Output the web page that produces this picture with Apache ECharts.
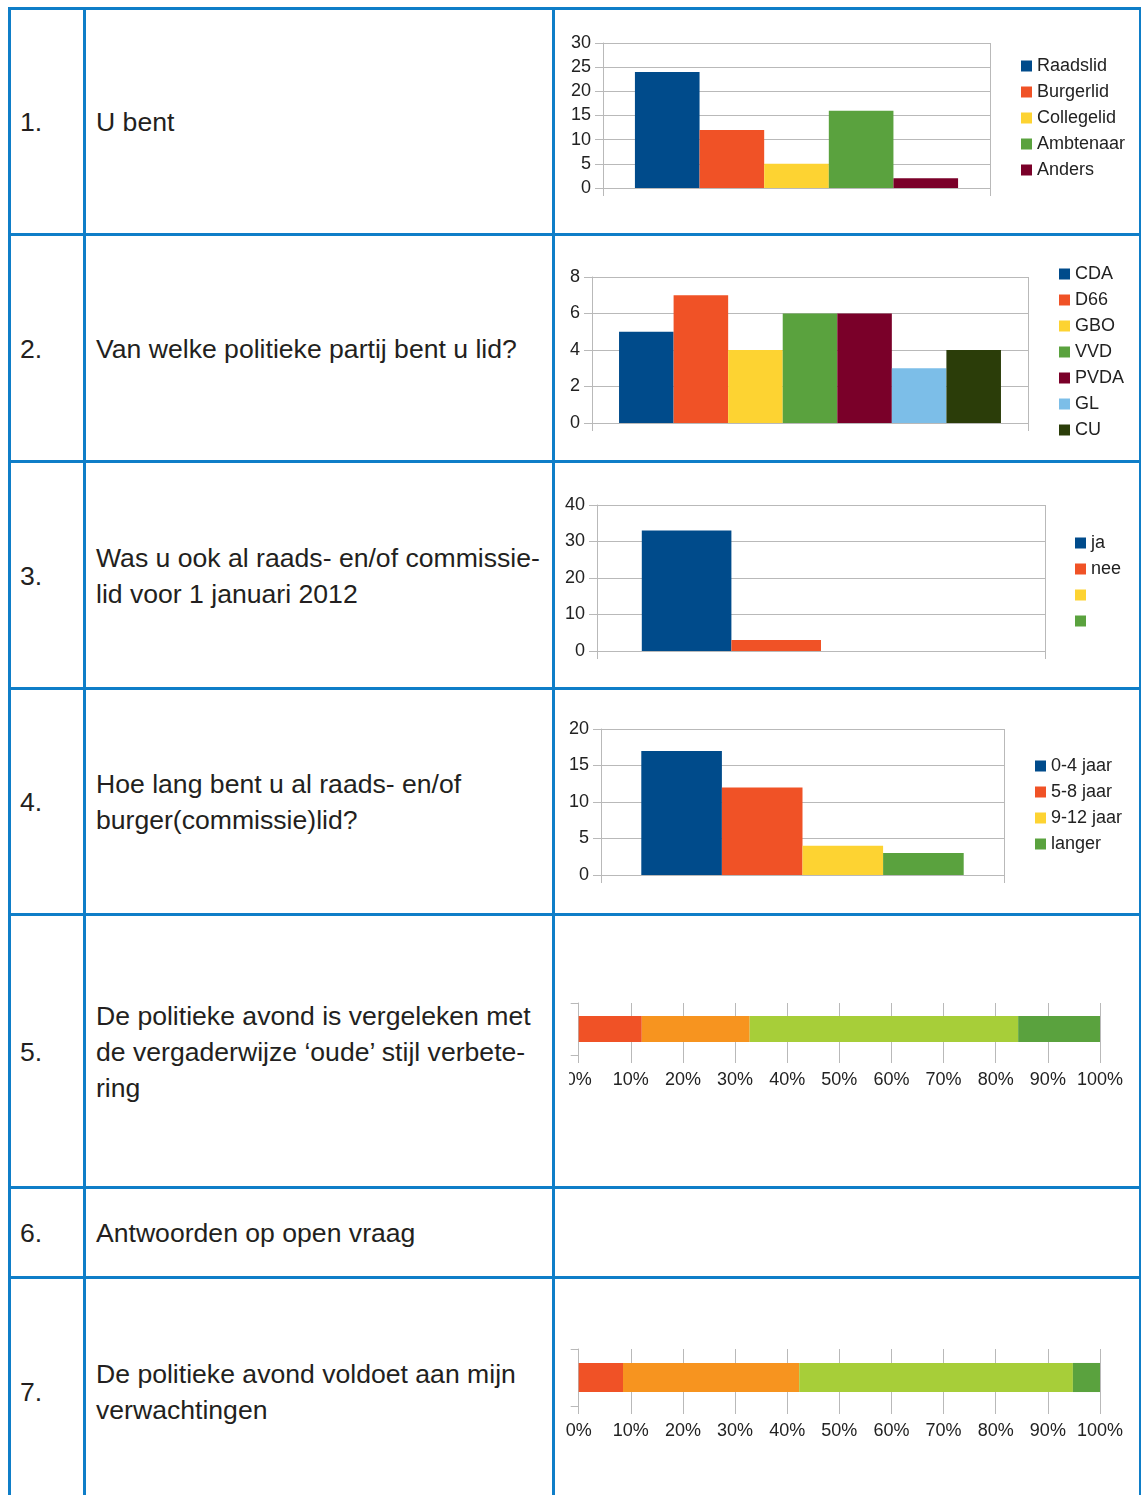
<!DOCTYPE html>
<html>
<head>
<meta charset="utf-8">
<script src="https://cdn.jsdelivr.net/npm/echarts@6/dist/echarts.min.js"></script>
<style>
  html, body { margin: 0; padding: 0; background: #ffffff; }
  #page { position: relative; width: 1141px; height: 1495px; overflow: hidden; background: #fff;
          font-family: "Liberation Sans", Arial, Helvetica, sans-serif; color: #231f20; }
  .hl, .vl { position: absolute; background: #0f7ec8; z-index: 5; }
  .txt { position: absolute; font-size: 26.6px; line-height: 36px; white-space: nowrap; z-index: 3; }
  .chart { position: absolute; z-index: 2; }
</style>
</head>
<body>
<div id="page"></div>
<script>
// ---------- data ----------
const rowNumbers = ['1.', '2.', '3.', '4.', '5.', '6.', '7.'];
const questions = [
  ['U bent'],
  ['Van welke politieke partij bent u lid?'],
  ['Was u ook al raads- en/of commissie-', 'lid voor 1 januari 2012'],
  ['Hoe lang bent u al raads- en/of', 'burger(commissie)lid?'],
  ['De politieke avond is vergeleken met', 'de vergaderwijze \u2018oude\u2019 stijl verbete-', 'ring'],
  ['Antwoorden op open vraag'],
  ['De politieke avond voldoet aan mijn', 'verwachtingen']
];

const q1Names = ['Raadslid', 'Burgerlid', 'Collegelid', 'Ambtenaar', 'Anders'];
const q1Values = [24, 12, 5, 16, 2];

const q2Names = ['CDA', 'D66', 'GBO', 'VVD', 'PVDA', 'GL', 'CU'];
const q2Values = [5, 7, 4, 6, 6, 3, 4];

const q3Names = ['ja', 'nee', '_leeg1', '_leeg2'];
const q3Values = [33, 3, 0, 0];

const q4Names = ['0-4 jaar', '5-8 jaar', '9-12 jaar', 'langer'];
const q4Values = [17, 12, 4, 3];

const q5Shares = [12.1, 20.7, 51.5, 15.7];
const q7Shares = [8.5, 33.8, 52.5, 5.2];

// ---------- styling ----------
const FONT = '"Liberation Sans", Arial, Helvetica, sans-serif';
const GRID = '#b9b9b9';
const TXT = '#222222';
const C_BLUE = '#004b8b', C_RED = '#f05226', C_YEL = '#fdd332', C_GRN = '#5aa23e',
      C_MAR = '#7a0029', C_LBL = '#7cbee8', C_DGR = '#2b3d09', C_ORG = '#f7941f', C_LGR = '#a7ce39';
const q1Colors = [C_BLUE, C_RED, C_YEL, C_GRN, C_MAR];
const q2Colors = [C_BLUE, C_RED, C_YEL, C_GRN, C_MAR, C_LBL, C_DGR];
const q3Colors = [C_BLUE, C_RED, C_YEL, C_GRN];
const q4Colors = [C_BLUE, C_RED, C_YEL, C_GRN];
const scaleColors = [C_RED, C_ORG, C_LGR, C_GRN];

// ---------- table ----------
const page = document.getElementById('page');
const rowLines = [7, 233, 460, 687, 913, 1186, 1276];
const colLines = [8, 83, 552, 1139];
const rowCenters = [122, 349, 576, 802, 1052, 1233, 1392];

rowLines.forEach(y => {
  const d = document.createElement('div');
  d.className = 'hl';
  d.style.cssText = `left:8px;top:${y}px;width:1141px;height:3px;`;
  page.appendChild(d);
});
colLines.forEach(x => {
  const d = document.createElement('div');
  d.className = 'vl';
  d.style.cssText = `left:${x}px;top:7px;width:3px;height:1500px;`;
  page.appendChild(d);
});
rowNumbers.forEach((n, i) => {
  const d = document.createElement('div');
  d.className = 'txt';
  d.style.cssText = `left:20px;top:${rowCenters[i] - 18}px;`;
  d.textContent = n;
  page.appendChild(d);
  const q = document.createElement('div');
  q.className = 'txt';
  const lines = questions[i];
  q.style.cssText = `left:96px;top:${rowCenters[i] - lines.length * 18}px;`;
  q.innerHTML = lines.map(s => s.replace(/&/g, '&amp;').replace(/</g, '&lt;')).join('<br>');
  page.appendChild(q);
});

function makeDiv(left, top, width, height) {
  const d = document.createElement('div');
  d.className = 'chart';
  d.style.cssText = `left:${left}px;top:${top}px;width:${width}px;height:${height}px;`;
  page.appendChild(d);
  return d;
}

function barChart(names, values, colors, L) {
  const ox = 555, oy = L.rowTop;
  const el = makeDiv(ox, oy, 584, L.rowH);
  const ch = echarts.init(el, null, { renderer: 'canvas' });
  ch.setOption({
    animation: false,
    textStyle: { fontFamily: FONT },
    grid: { left: L.pl - ox, top: L.pt - oy, width: L.pr - L.pl, height: L.pb - L.pt,
            containLabel: false, outerBoundsMode: 'none' },
    legend: {
      orient: 'vertical', left: L.ll - ox, top: L.lc - 8 - oy, padding: 0,
      itemWidth: 11, itemHeight: 11, itemGap: 6, icon: 'rect', selectedMode: false,
      textStyle: { fontSize: 18, color: TXT, fontFamily: FONT, lineHeight: 20 },
      formatter: n => (n.charAt(0) === '_' ? '\u00a0' : n),
      data: names
    },
    xAxis: {
      type: 'category', data: [''],
      axisLine: { show: true, lineStyle: { color: GRID } },
      axisTick: { show: true, length: 8, lineStyle: { color: GRID } },
      axisLabel: { show: false },
      splitLine: { show: true, lineStyle: { color: GRID } }
    },
    yAxis: {
      type: 'value', min: 0, max: L.max, interval: L.step,
      axisLine: { show: true, lineStyle: { color: GRID } },
      axisTick: { show: true, length: 8, lineStyle: { color: GRID } },
      axisLabel: { fontSize: 18, color: TXT, margin: 12, fontFamily: FONT },
      splitLine: { show: true, lineStyle: { color: GRID } }
    },
    series: names.map((n, i) => ({
      type: 'bar', name: n, data: [values[i]],
      itemStyle: { color: colors[i] },
      barGap: '0%', barCategoryGap: L.gap
    }))
  });
}

function shareChart(shares, L) {
  const ox = L.clipLeft, oy = L.rowTop;
  const el = makeDiv(ox, oy, 1139 - ox, L.rowH);
  const ch = echarts.init(el, null, { renderer: 'canvas' });
  ch.setOption({
    animation: false,
    textStyle: { fontFamily: FONT },
    grid: { left: L.pl - ox, top: L.pt - oy, width: L.pr - L.pl, height: L.pb - L.pt,
            containLabel: false, outerBoundsMode: 'none' },
    xAxis: {
      type: 'value', min: 0, max: 100, interval: 10,
      axisLine: { show: false },
      axisTick: { show: true, length: 8, lineStyle: { color: GRID } },
      axisLabel: { fontSize: 18, color: TXT, margin: 16, fontFamily: FONT, formatter: '{value}%' },
      splitLine: { show: true, lineStyle: { color: GRID } }
    },
    yAxis: {
      type: 'category', data: [''],
      axisLine: { show: true, lineStyle: { color: GRID } },
      axisTick: { show: true, length: 8, lineStyle: { color: GRID } },
      axisLabel: { show: false },
      splitLine: { show: false }
    },
    series: shares.map((v, i) => ({
      type: 'bar', stack: 'total', name: 's' + i, data: [v],
      itemStyle: { color: scaleColors[i] },
      barCategoryGap: L.gap
    }))
  });
}

barChart(q1Names, q1Values, q1Colors,
  { rowTop: 10, rowH: 223, pl: 603, pr: 990, pt: 43, pb: 188, max: 30, step: 5, gap: '16.5%', ll: 1021, lc: 64 });
barChart(q2Names, q2Values, q2Colors,
  { rowTop: 236, rowH: 224, pl: 592, pr: 1028, pt: 277, pb: 423, max: 8, step: 2, gap: '12.4%', ll: 1059, lc: 272 });
barChart(q3Names, q3Values, q3Colors,
  { rowTop: 463, rowH: 224, pl: 597, pr: 1045, pt: 505, pb: 651, max: 40, step: 10, gap: '20%', ll: 1075, lc: 541 });
barChart(q4Names, q4Values, q4Colors,
  { rowTop: 690, rowH: 223, pl: 601, pr: 1004, pt: 729, pb: 875, max: 20, step: 5, gap: '20%', ll: 1035, lc: 764 });
shareChart(q5Shares,
  { clipLeft: 569, rowTop: 916, rowH: 270, pl: 578.7, pr: 1100, pt: 1003, pb: 1055, gap: '50%' });
shareChart(q7Shares,
  { clipLeft: 555, rowTop: 1279, rowH: 216, pl: 578.7, pr: 1100, pt: 1349, pb: 1406, gap: '49%' });
</script>
</body>
</html>
